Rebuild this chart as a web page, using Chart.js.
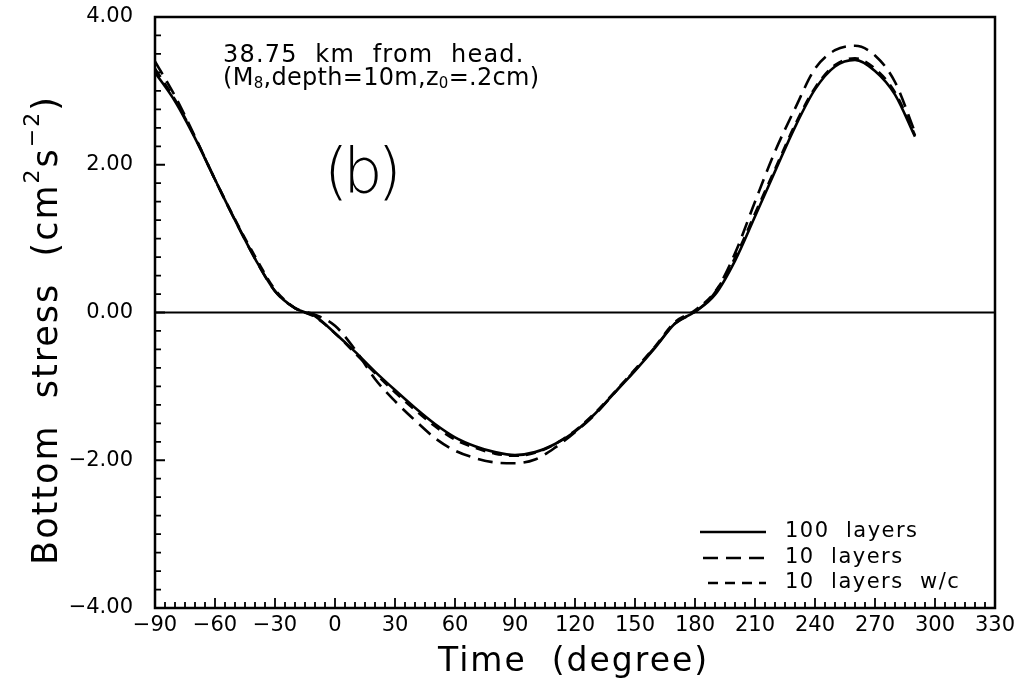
<!DOCTYPE html>
<html>
<head>
<meta charset="utf-8">
<title>Bottom stress</title>
<script src="https://cdn.jsdelivr.net/npm/chart.js@4/dist/chart.umd.min.js"></script>
<style>
  html, body { margin: 0; padding: 0; background: #fff; }
  canvas { display: block; }
</style>
</head>
<body>
<canvas id="stressChart" width="1025" height="688"></canvas>
<script>
// phase (degree)
const degrees = [-90, -80, -70, -60, -50, -40, -30, -20, -10, 0, 10, 20, 30, 40, 50, 60, 70, 80, 90,
    100, 110, 120, 130, 140, 150, 160, 170, 180, 190, 200, 210, 220, 230, 240, 250, 260, 270, 280, 290];

// bottom stress (cm^2 s^-2)
const stress100 = [3.25, 2.86, 2.36, 1.80, 1.25, 0.73, 0.29, 0.06, -0.05, -0.28, -0.53, -0.80, -1.05, -1.29, -1.51, -1.69, -1.81, -1.89, -1.93,
    -1.89, -1.78, -1.61, -1.37, -1.08, -0.79, -0.48, -0.15, 0.01, 0.24, 0.70, 1.30, 1.91, 2.51, 3.02, 3.33, 3.42, 3.27, 2.95, 2.38];
const stress10 = [3.40, 2.93, 2.38, 1.80, 1.25, 0.73, 0.29, 0.06, -0.03, -0.18, -0.50, -0.90, -1.20, -1.46, -1.70, -1.87, -1.97, -2.03, -2.04,
    -1.99, -1.83, -1.62, -1.38, -1.08, -0.78, -0.47, -0.15, 0.01, 0.27, 0.80, 1.50, 2.18, 2.76, 3.30, 3.55, 3.61, 3.48, 3.12, 2.44];
const stress10wc = [3.30, 2.88, 2.37, 1.80, 1.26, 0.76, 0.31, 0.06, -0.06, -0.28, -0.55, -0.82, -1.08, -1.32, -1.54, -1.72, -1.83, -1.91, -1.94,
    -1.90, -1.78, -1.60, -1.36, -1.07, -0.77, -0.46, -0.13, 0.03, 0.28, 0.74, 1.34, 1.94, 2.54, 3.04, 3.35, 3.44, 3.30, 2.98, 2.40];

const seriesNames = ["100 layers", "10 layers", "10 layers w/c"];

const xTicks = { min: -90, max: 330, step: 30, minor: 5 };
const yTicks = { min: -4, max: 4, step: 2, minor: 0.25 };

const FONT = "'DejaVu Sans', sans-serif";
const minus = s => String(s).replace("-", "\u2212");

function toPoints(values) {
    return degrees.map((d, i) => ({ x: d, y: values[i] }));
}

// draw a list of text runs (for sub/superscripts) starting at x,y
function drawRuns(ctx, runs, x, y) {
    runs.forEach(r => {
        ctx.font = `${r.size}px ${FONT}`;
        ctx.fillText(r.t, x, y + (r.dy || 0));
        x += ctx.measureText(r.t).width;
    });
    return x;
}
function runsWidth(ctx, runs) {
    let w = 0;
    runs.forEach(r => {
        ctx.font = `${r.size}px ${FONT}`;
        w += ctx.measureText(r.t).width;
    });
    return w;
}

// frame, inward ticks and zero line
const framePlugin = {
    id: "frame",
    afterDatasetsDraw(chart) {
        const { ctx, chartArea: a, scales: { x, y } } = chart;
        ctx.save();
        ctx.strokeStyle = "#000";
        ctx.lineWidth = 2.5;
        ctx.strokeRect(a.left, a.top, a.right - a.left, a.bottom - a.top);

        const y0 = y.getPixelForValue(0);
        ctx.lineWidth = 2.2;
        ctx.beginPath();
        ctx.moveTo(a.left, y0);
        ctx.lineTo(a.right, y0);
        ctx.stroke();

        ctx.lineWidth = 1.8;
        ctx.beginPath();
        for (let v = xTicks.min; v <= xTicks.max; v += xTicks.minor) {
            const px = x.getPixelForValue(v);
            const len = (v - xTicks.min) % xTicks.step === 0 ? 10 : 6;
            ctx.moveTo(px, a.bottom);
            ctx.lineTo(px, a.bottom - len);
        }
        for (let v = yTicks.min; v <= yTicks.max + 1e-9; v += yTicks.minor) {
            const py = y.getPixelForValue(v);
            const len = Math.abs(v % yTicks.step) < 1e-9 ? 10 : 6;
            ctx.moveTo(a.left, py);
            ctx.lineTo(a.left + len, py);
        }
        ctx.stroke();
        ctx.restore();
    }
};

// annotations, axis titles and the legend
const textPlugin = {
    id: "texts",
    afterDraw(chart) {
        const { ctx } = chart;
        ctx.save();
        ctx.fillStyle = "#000";
        ctx.textBaseline = "alphabetic";
        ctx.textAlign = "left";

        ctx.letterSpacing = "1.2px";
        drawRuns(ctx, [{ t: "38.75  km  from  head.", size: 24 }], 223, 62);
        ctx.letterSpacing = "0.3px";
        drawRuns(ctx, [
            { t: "(M", size: 24 }, { t: "8", size: 15, dy: 3 },
            { t: ",depth=10m,z", size: 24 }, { t: "0", size: 15, dy: 3 },
            { t: "=.2cm)", size: 24 }
        ], 223, 85);

        ctx.letterSpacing = "-5px";
        ctx.font = `200 62px ${FONT}`;
        ctx.fillText("(b)", 324, 192);

        // x title
        ctx.letterSpacing = "2px";
        drawRuns(ctx, [{ t: "Time  (degree)", size: 33 }], 438, 671);

        // y title, rotated
        const yt = [
            { t: "Bottom  stress  (cm", size: 35 },
            { t: "2", size: 22, dy: -18 },
            { t: "s", size: 35 },
            { t: "\u22122", size: 22, dy: -18 },
            { t: ")", size: 35 }
        ];
        ctx.translate(57, 330);
        ctx.rotate(-Math.PI / 2);
        drawRuns(ctx, yt, -runsWidth(ctx, yt) / 2, 0);
        ctx.setTransform(1, 0, 0, 1, 0, 0);

        // legend
        ctx.letterSpacing = "1.5px";
        const rows = [532, 558, 583];
        const starts = [700, 703, 708];
        chart.data.datasets.forEach((ds, i) => {
            ctx.strokeStyle = "#000";
            ctx.lineWidth = 2.4;
            ctx.setLineDash(ds.borderDash || []);
            ctx.beginPath();
            ctx.moveTo(starts[i], rows[i]);
            ctx.lineTo(766, rows[i]);
            ctx.stroke();
            ctx.setLineDash([]);
            ctx.font = `21px ${FONT}`;
            ctx.textBaseline = "middle";
            ctx.fillText(ds.label.replace(/ /g, "  "), 785, rows[i]);
        });
        ctx.restore();
    }
};

new Chart(document.getElementById("stressChart").getContext("2d"), {
    type: "line",
    data: {
        datasets: [
            { label: seriesNames[0], data: toPoints(stress100), borderDash: [] },
            { label: seriesNames[1], data: toPoints(stress10), borderDash: [15, 8] },
            { label: seriesNames[2], data: toPoints(stress10wc), borderDash: [10, 7] }
        ].map(ds => Object.assign(ds, {
            borderColor: "#000",
            borderWidth: 2.6,
            pointRadius: 0,
            fill: false,
            cubicInterpolationMode: "monotone"
        }))
    },
    options: {
        responsive: false,
        animation: false,
        devicePixelRatio: 1,
        layout: { padding: { top: 17, right: 30, left: 0, bottom: 0 } },
        plugins: { legend: { display: false }, tooltip: { enabled: false } },
        scales: {
            x: {
                type: "linear",
                min: xTicks.min,
                max: xTicks.max,
                afterFit: s => { s.height = 80; },
                grid: { display: false, drawTicks: false },
                border: { display: false },
                ticks: {
                    stepSize: xTicks.step,
                    padding: 5,
                    color: "#000",
                    font: { family: FONT, size: 21 },
                    maxRotation: 0,
                    autoSkip: false,
                    callback: v => minus(v)
                }
            },
            y: {
                min: yTicks.min,
                max: yTicks.max,
                afterFit: s => { s.width = 155; s.paddingTop = 0; s.paddingBottom = 0; },
                grid: { display: false, drawTicks: false },
                border: { display: false },
                ticks: {
                    stepSize: yTicks.step,
                    padding: 22,
                    color: "#000",
                    font: { family: FONT, size: 21 },
                    callback: v => minus(v.toFixed(2))
                }
            }
        }
    },
    plugins: [framePlugin, textPlugin]
});
</script>
</body>
</html>
